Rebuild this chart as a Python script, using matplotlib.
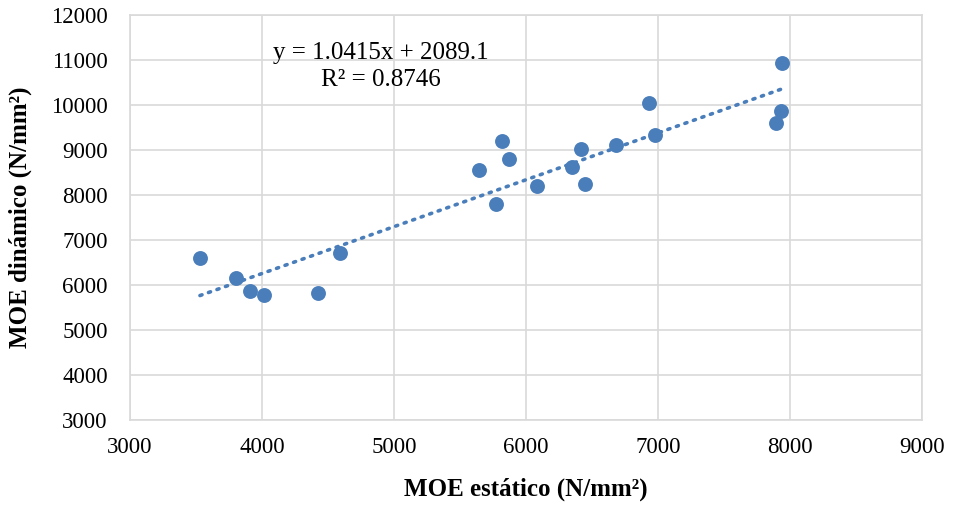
import numpy as np
import matplotlib.pyplot as plt

# MOE estatico vs dinamico (N/mm2)
moe_estatico = [3530, 3803, 3909, 4015, 4424, 4591, 5644, 5773, 5818, 5871,
                6083, 6348, 6417, 6447, 6682, 6932, 6977, 7894, 7932, 7939]
moe_dinamico = [6600, 6150, 5860, 5780, 5820, 6700, 8550, 7800, 9200, 8800,
                8200, 8620, 9020, 8240, 9110, 10040, 9330, 9600, 9860, 10930]

# trendline as printed on the chart
slope = 1.0415
intercept = 2089.1
r2 = 0.8746

x_ticks = [3000, 4000, 5000, 6000, 7000, 8000, 9000]
y_ticks = [3000, 4000, 5000, 6000, 7000, 8000, 9000, 10000, 11000, 12000]

plt.rcParams['font.family'] = ['Liberation Serif', 'DejaVu Serif']

blue = '#4a7ebb'
grid_c = '#d9d9d9'

fig = plt.figure(figsize=(9.57, 5.09), dpi=100)
ax = fig.add_axes([130 / 957, 89 / 509, 792 / 957, 405 / 509])

ax.scatter(moe_estatico, moe_dinamico, s=115, color=blue, zorder=3, linewidths=0)

# linear trendline drawn over the data range
xs = np.array([min(moe_estatico), max(moe_estatico)])
ax.plot(xs, slope * xs + intercept, color=blue, linewidth=2.6,
        linestyle=(0, (0.6, 1.9)), dash_capstyle='round', zorder=2)

ax.text(4900, 10860, f"y = {slope}x + {intercept}\nR² = {r2}",
        ha='center', va='center', fontsize=18, linespacing=1.3)

ax.set_xlim(x_ticks[0], x_ticks[-1])
ax.set_ylim(y_ticks[0], y_ticks[-1])
ax.set_xticks(x_ticks)
ax.set_yticks(y_ticks)
ax.tick_params(length=0, labelsize=16.5)
ax.tick_params(axis='x', pad=12)
ax.tick_params(axis='y', pad=16)

ax.grid(True, color=grid_c, linewidth=1.2)
ax.set_axisbelow(True)
for s in ax.spines.values():
    s.set_color(grid_c)
    s.set_linewidth(1.2)

ax.set_xlabel('MOE estático (N/mm²)', fontsize=18, fontweight='bold', labelpad=14)
ax.set_ylabel('MOE dinámico (N/mm²)', fontsize=18, fontweight='bold', labelpad=14)

fig.savefig('out.png', dpi=100)
